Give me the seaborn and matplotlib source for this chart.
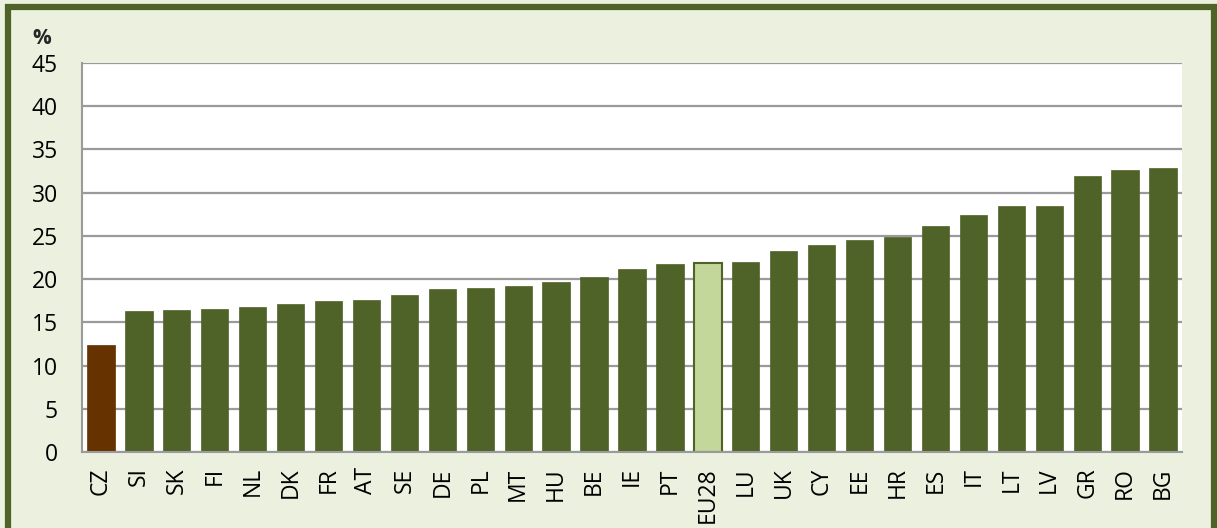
import matplotlib
matplotlib.use("Agg")
import matplotlib.pyplot as plt
import seaborn as sns
import pandas as pd
from matplotlib.patches import Rectangle

countries = ["CZ", "SI", "SK", "FI", "NL", "DK", "FR", "AT", "SE", "DE", "PL", "MT", "HU", "BE",
             "IE", "PT", "EU28", "LU", "UK", "CY", "EE", "HR", "ES", "IT", "LT", "LV", "GR", "RO", "BG"]
values = [12.4, 16.3, 16.4, 16.6, 16.8, 17.1, 17.5, 17.6, 18.2, 18.9, 19.0, 19.2, 19.7, 20.2,
          21.2, 21.7, 21.9, 22.0, 23.3, 24.0, 24.5, 24.9, 26.2, 27.4, 28.4, 28.5, 31.9, 32.6, 32.9]
yticks = [0, 5, 10, 15, 20, 25, 30, 35, 40, 45]

GREEN = "#4F6228"
BROWN = "#663300"
LIGHT = "#C4D79B"
BG = "#EBF1DE"
GRID = "#9A9A9A"

colors = {c: GREEN for c in countries}
colors["CZ"] = BROWN
colors["EU28"] = LIGHT

df = pd.DataFrame({"country": countries, "value": values})

sns.set_theme(style="white")
plt.rcParams["font.family"] = ["Open Sans", "DejaVu Sans"]

fig = plt.figure(figsize=(12.17, 5.28), dpi=100, facecolor=BG)
ax = fig.add_axes([82 / 1217, 1 - 452 / 528, 1100 / 1217, 389 / 528])
ax.set_facecolor("white")

sns.barplot(data=df, x="country", y="value", hue="country", palette=colors,
            dodge=False, legend=False, width=0.72, saturation=1, ax=ax,
            edgecolor=GREEN, linewidth=0.8)
for p, c in zip(ax.patches, countries):
    if c == "EU28":
        p.set_edgecolor(GREEN)
        p.set_linewidth(1.5)
    else:
        p.set_edgecolor(p.get_facecolor())
        p.set_linewidth(0.5)

ax.set_xlim(-0.5, len(countries) - 0.5)
ax.set_ylim(0, 45)
ax.set_yticks(yticks)
ax.set_yticklabels([str(t) for t in yticks], fontsize=16.5, color="black")
ax.set_xticks(range(len(countries)))
ax.set_xticklabels(countries, rotation=90, fontsize=16.5, color="black")
ax.set_xticks([i - 0.5 for i in range(len(countries) + 1)], minor=True)
ax.tick_params(axis="x", which="major", length=0, pad=11)
ax.tick_params(axis="x", which="minor", length=6, width=1.5, color=GRID, direction="out")
ax.tick_params(axis="y", which="major", length=6.5, width=1.5, color=GRID, direction="out", pad=11)
ax.set_xlabel("")
ax.set_ylabel("")
ax.yaxis.grid(True, color=GRID, linewidth=1.6)
ax.set_axisbelow(True)
for s in ["top", "right"]:
    ax.spines[s].set_visible(False)
for s in ["left", "bottom"]:
    ax.spines[s].set_color(GRID)
    ax.spines[s].set_linewidth(1.5)

fig.text(42 / 1217, 1 - 38 / 528, "%", fontsize=15, fontweight="bold", ha="center", va="center")

# outer frame
fig.patches.append(Rectangle((8 / 1217, -0.05), (1214 - 8) / 1217, 1.05 - 7 / 528,
                             transform=fig.transFigure, fill=False, edgecolor=GREEN,
                             linewidth=4.5, zorder=10))

fig.savefig("out.png", dpi=100, facecolor=BG)
